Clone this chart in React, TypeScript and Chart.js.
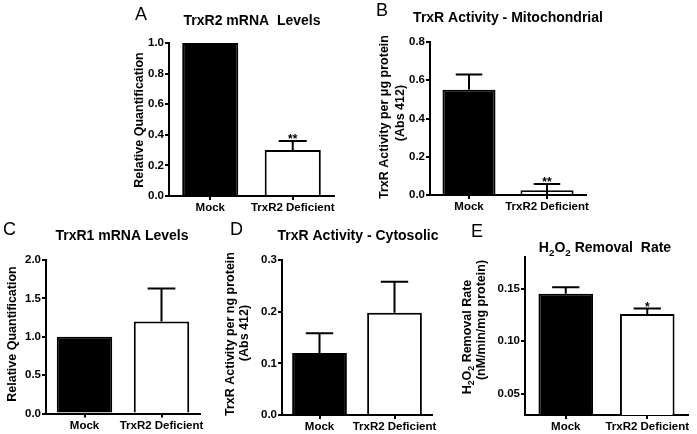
import React, { useEffect, useRef } from "react";
import { Chart, registerables } from "chart.js";

Chart.register(...registerables);

const categories = ["Mock", "TrxR2 Deficient"];

// Panel A
const valuesA = [1.0, 0.3];
const errorsA = [0, 0.06];
const starsA = ["", "**"];
const ticksA = [0, 0.2, 0.4, 0.6, 0.8, 1.0];
// Panel B
const valuesB = [0.55, 0.025];
const errorsB = [0.08, 0.032];
const starsB = ["", "**"];
const ticksB = [0, 0.2, 0.4, 0.6, 0.8];
// Panel C
const valuesC = [1.0, 1.2];
const errorsC = [0, 0.43];
const starsC = ["", ""];
const ticksC = [0, 0.5, 1.0, 1.5, 2.0];
// Panel D
const valuesD = [0.12, 0.198];
const errorsD = [0.038, 0.06];
const starsD = ["", ""];
const ticksD = [0, 0.1, 0.2, 0.3];
// Panel E
const valuesE = [0.145, 0.126];
const errorsE = [0.0062, 0.005];
const starsE = ["", "*"];
const ticksE = [0.05, 0.1, 0.15];

const W = 697;
const H = 434;
const FONT = "'Liberation Sans', Arial, Helvetica, sans-serif";
const Y_W = 40;
const X_H = 25;

type Seg = { t: string; sub?: boolean };

interface Panel {
  letter: string;
  letterPos: [number, number];
  title: Seg[];
  titlePos: [number, number];
  yLabels: { segs: Seg[]; x: number; y: number }[];
  values: number[];
  errors: number[];
  lowerErr: boolean[];
  stars: string[];
  ticks: number[];
  decimals: number;
  min: number;
  max: number;
  axisX: number;
  top: number;
  bottom: number;
  right: number;
  barPct: number;
}

const panels: Panel[] = [
  {
    letter: "A",
    letterPos: [135, 20],
    title: [{ t: "TrxR2 mRNA  Levels" }],
    titlePos: [252, 25],
    yLabels: [{ segs: [{ t: "Relative Quantification" }], x: 140, y: 120 }],
    values: valuesA,
    errors: errorsA,
    lowerErr: [false, false],
    stars: starsA,
    ticks: ticksA,
    decimals: 1,
    min: 0,
    max: 1.0,
    axisX: 169,
    top: 43,
    bottom: 196,
    right: 334,
    barPct: 0.68,
  },
  {
    letter: "B",
    letterPos: [376, 16],
    title: [{ t: "TrxR Activity - Mitochondrial" }],
    titlePos: [508, 22],
    yLabels: [
      { segs: [{ t: "TrxR Activity per \u03bcg protein" }], x: 385, y: 117 },
      { segs: [{ t: "(Abs 412)" }], x: 401, y: 113 },
    ],
    values: valuesB,
    errors: errorsB,
    lowerErr: [false, true],
    stars: starsB,
    ticks: ticksB,
    decimals: 1,
    min: 0,
    max: 0.8,
    axisX: 430,
    top: 42,
    bottom: 195,
    right: 586,
    barPct: 0.68,
  },
  {
    letter: "C",
    letterPos: [3, 235],
    title: [{ t: "TrxR1 mRNA Levels" }],
    titlePos: [122, 240],
    yLabels: [{ segs: [{ t: "Relative Quantification" }], x: 13, y: 334 }],
    values: valuesC,
    errors: errorsC,
    lowerErr: [false, false],
    stars: starsC,
    ticks: ticksC,
    decimals: 1,
    min: 0,
    max: 2.0,
    axisX: 46,
    top: 260,
    bottom: 413.5,
    right: 200,
    barPct: 0.72,
  },
  {
    letter: "D",
    letterPos: [230, 235],
    title: [{ t: "TrxR Activity - Cytosolic" }],
    titlePos: [358, 240],
    yLabels: [
      { segs: [{ t: "TrxR Activity per ng protein" }], x: 231, y: 334 },
      { segs: [{ t: "(Abs 412)" }], x: 245, y: 333 },
    ],
    values: valuesD,
    errors: errorsD,
    lowerErr: [false, false],
    stars: starsD,
    ticks: ticksD,
    decimals: 1,
    min: 0,
    max: 0.3,
    axisX: 282,
    top: 260,
    bottom: 415,
    right: 432,
    barPct: 0.73,
  },
  {
    letter: "E",
    letterPos: [471, 237],
    title: [
      { t: "H" },
      { t: "2", sub: true },
      { t: "O" },
      { t: "2", sub: true },
      { t: " Removal  Rate" },
    ],
    titlePos: [605, 252],
    yLabels: [
      {
        segs: [
          { t: "H" },
          { t: "2", sub: true },
          { t: "O" },
          { t: "2", sub: true },
          { t: " Removal Rate" },
        ],
        x: 468,
        y: 337,
      },
      { segs: [{ t: "(nM/min/mg protein)" }], x: 482, y: 320 },
    ],
    values: valuesE,
    errors: errorsE,
    lowerErr: [false, false],
    stars: starsE,
    ticks: ticksE,
    decimals: 2,
    min: 0.03,
    max: 0.18,
    axisX: 525,
    top: 257,
    bottom: 415,
    right: 688,
    barPct: 0.67,
  },
];

function drawRich(
  ctx: CanvasRenderingContext2D,
  segs: Seg[],
  x: number,
  y: number,
  size: number,
  baseline: CanvasTextBaseline
) {
  const subSize = size * 0.7;
  const widths = segs.map((s) => {
    ctx.font = `bold ${s.sub ? subSize : size}px ${FONT}`;
    return ctx.measureText(s.t).width;
  });
  const total = widths.reduce((a, b) => a + b, 0);
  let cx = x - total / 2;
  ctx.textAlign = "left";
  ctx.textBaseline = baseline;
  segs.forEach((s, i) => {
    ctx.font = `bold ${s.sub ? subSize : size}px ${FONT}`;
    ctx.fillText(s.t, cx, s.sub ? y + size * 0.3 : y);
    cx += widths[i];
  });
}

function PanelChart({ p }: { p: Panel }) {
  const ref = useRef<HTMLCanvasElement>(null);
  useEffect(() => {
    if (!ref.current) return;
    const overlay = {
      id: "overlay",
      afterDatasetsDraw(chart: any) {
        const ctx = chart.ctx as CanvasRenderingContext2D;
        const ys = chart.scales.y;
        const meta = chart.getDatasetMeta(0);
        ctx.save();
        ctx.strokeStyle = "#000";
        ctx.fillStyle = "#000";
        ctx.lineWidth = 2;
        meta.data.forEach((bar: any, i: number) => {
          const v = p.values[i];
          const e = p.errors[i];
          const capW = bar.width * 0.5;
          let capY = ys.getPixelForValue(v);
          if (e > 0) {
            const yv = ys.getPixelForValue(v);
            const yt = ys.getPixelForValue(v + e);
            capY = yt;
            ctx.beginPath();
            ctx.moveTo(bar.x, yv);
            ctx.lineTo(bar.x, yt);
            ctx.moveTo(bar.x - capW / 2, yt);
            ctx.lineTo(bar.x + capW / 2, yt);
            if (p.lowerErr[i]) {
              const yb = ys.getPixelForValue(Math.max(v - e, p.min));
              ctx.moveTo(bar.x, yv);
              ctx.lineTo(bar.x, yb);
              ctx.moveTo(bar.x - capW / 2, yb);
              ctx.lineTo(bar.x + capW / 2, yb);
            }
            ctx.stroke();
          }
          if (p.stars[i]) {
            ctx.font = `bold 12px ${FONT}`;
            ctx.textAlign = "center";
            ctx.textBaseline = "alphabetic";
            ctx.fillText(p.stars[i], bar.x, capY + 2);
          }
        });
        ctx.restore();
      },
      afterDraw(chart: any) {
        const ctx = chart.ctx as CanvasRenderingContext2D;
        ctx.save();
        ctx.fillStyle = "#000";
        ctx.font = `18px ${FONT}`;
        ctx.textAlign = "left";
        ctx.textBaseline = "alphabetic";
        ctx.fillText(p.letter, p.letterPos[0], p.letterPos[1]);
        drawRich(ctx, p.title, p.titlePos[0], p.titlePos[1], 14, "alphabetic");
        p.yLabels.forEach((l) => {
          ctx.save();
          ctx.translate(l.x, l.y);
          ctx.rotate(-Math.PI / 2);
          drawRich(ctx, l.segs, 0, 0, 12.5, "middle");
          ctx.restore();
        });
        ctx.restore();
      },
    };

    const chart = new Chart(ref.current, {
      type: "bar",
      data: {
        labels: categories,
        datasets: [
          {
            data: p.values,
            backgroundColor: ["#000000", "#ffffff"],
            borderColor: "#000000",
            borderWidth: 2,
            barPercentage: p.barPct,
            categoryPercentage: 1,
          },
        ],
      },
      options: {
        responsive: false,
        animation: false,
        events: [],
        layout: {
          padding: {
            left: p.axisX - Y_W,
            top: p.top,
            right: W - p.right,
            bottom: H - p.bottom - X_H,
          },
        },
        plugins: {
          legend: { display: false },
          tooltip: { enabled: false },
          title: { display: false },
        },
        scales: {
          x: {
            offset: true,
            afterFit: (s: any) => {
              s.height = X_H;
            },
            grid: {
              offset: false,
              drawOnChartArea: false,
              drawTicks: true,
              tickLength: 4,
              color: "#000",
              lineWidth: 2,
            },
            border: { display: true, color: "#000", width: 2 },
            ticks: {
              color: "#000",
              padding: 1,
              maxRotation: 0,
              autoSkip: false,
              font: { family: FONT, size: 11.5, weight: "bold" },
            },
          },
          y: {
            min: p.min,
            max: p.max,
            afterFit: (s: any) => {
              s.width = Y_W;
            },
            afterBuildTicks: (s: any) => {
              s.ticks = p.ticks.map((v) => ({ value: v }));
            },
            grid: {
              drawOnChartArea: false,
              drawTicks: true,
              tickLength: 4,
              color: "#000",
              lineWidth: 2,
            },
            border: { display: true, color: "#000", width: 2 },
            ticks: {
              color: "#000",
              padding: 1,
              autoSkip: false,
              font: { family: FONT, size: 11.5, weight: "bold" },
              callback: (v: any) => Number(v).toFixed(p.decimals),
            },
          },
        },
      } as any,
      plugins: [overlay],
    });
    return () => chart.destroy();
  }, [p]);
  return (
    <canvas
      ref={ref}
      width={W}
      height={H}
      style={{ position: "absolute", left: 0, top: 0, width: W, height: H }}
    />
  );
}

export default function App() {
  return (
    <div
      style={{
        position: "fixed",
        left: 0,
        top: 0,
        width: W,
        height: H,
        background: "#fff",
        overflow: "hidden",
      }}
    >
      {panels.map((p) => (
        <PanelChart key={p.letter} p={p} />
      ))}
    </div>
  );
}
